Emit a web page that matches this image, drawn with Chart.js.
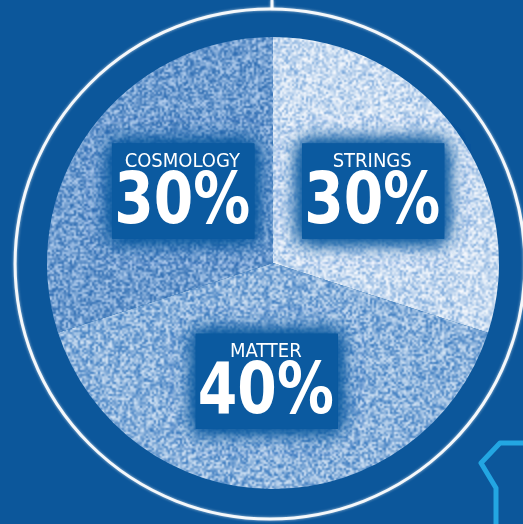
<!DOCTYPE html>
<html>
<head>
<meta charset="utf-8">
<script src="https://cdn.jsdelivr.net/npm/chart.js@4/dist/chart.umd.min.js"></script>
<style>
  html, body { margin: 0; padding: 0; background: #0c579b; }
  #wrap { width: 523px; height: 524px; position: relative; }
</style>
</head>
<body>
<div id="wrap"><canvas id="pie"></canvas></div>
<script>
// data, clockwise from 12 o'clock
const categories = ['STRINGS', 'MATTER', 'COSMOLOGY'];
const shares = [30, 40, 30];
const shareLabels = ['30%', '40%', '30%'];

const BG = '#0c579b';

// chalky fill: blotchy mix of two colours (seeded so every run looks the same)
// tile is as big as the canvas so no seams show
function chalk(dark, light, skew, seed) {
  const n = 270;
  const small = document.createElement('canvas');
  small.width = n; small.height = n;
  const sg = small.getContext('2d');
  const img = sg.createImageData(n, n);
  let s = seed;
  const rnd = () => { s = (s * 1103515245 + 12345) % 2147483648; return s / 2147483648; };
  for (let i = 0; i < n * n; i++) {
    const t = Math.pow(rnd(), skew);
    img.data[i * 4] = dark[0] + (light[0] - dark[0]) * t;
    img.data[i * 4 + 1] = dark[1] + (light[1] - dark[1]) * t;
    img.data[i * 4 + 2] = dark[2] + (light[2] - dark[2]) * t;
    img.data[i * 4 + 3] = 255;
  }
  sg.putImageData(img, 0, 0);
  const c = document.createElement('canvas');
  c.width = n * 2; c.height = n * 2;
  const g = c.getContext('2d');
  g.imageSmoothingEnabled = true;
  g.drawImage(small, 0, 0, n * 2, n * 2);
  return g.createPattern(c, 'no-repeat');
}

const sliceFills = [
  chalk([110, 160, 215], [252, 253, 255], 0.6, 7),
  chalk([55, 120, 190], [215, 230, 246], 0.9, 11),
  chalk([45, 108, 178], [185, 210, 240], 1.1, 19)
];

const decorPlugin = {
  id: 'decor',
  beforeDraw(chart) {
    const ctx = chart.ctx;
    const arc = chart.getDatasetMeta(0).data[0];
    if (!arc) return;
    const cx = arc.x, cy = arc.y, r = arc.outerRadius;
    ctx.save();
    ctx.fillStyle = BG;
    ctx.fillRect(0, 0, chart.width, chart.height);
    // outer chalk ring
    ctx.strokeStyle = 'rgba(255,255,255,0.92)';
    ctx.lineWidth = 3;
    ctx.shadowColor = 'rgba(255,255,255,0.7)';
    ctx.shadowBlur = 3;
    ctx.beginPath();
    ctx.arc(cx - 3, cy + 1, r * 1.128, 0, Math.PI * 2);
    ctx.stroke();
    // stem at top
    ctx.beginPath();
    ctx.moveTo(cx - 1, 0);
    ctx.lineTo(cx - 1, cy + 1 - r * 1.128);
    ctx.stroke();
    ctx.shadowBlur = 0;
    // cyan outline at bottom right
    ctx.strokeStyle = '#23a6e2';
    ctx.lineWidth = 5;
    ctx.lineJoin = 'round';
    ctx.beginPath();
    ctx.moveTo(530, 443);
    ctx.lineTo(500, 443);
    ctx.lineTo(481, 463);
    ctx.lineTo(496, 488);
    ctx.lineTo(496, 530);
    ctx.stroke();
    ctx.restore();
  },
  afterDatasetsDraw(chart) {
    const ctx = chart.ctx;
    const meta = chart.getDatasetMeta(0);
    ctx.save();
    meta.data.forEach((arc, i) => {
      const mid = (arc.startAngle + arc.endAngle) / 2;
      const d = arc.outerRadius * 0.53;
      const x = arc.x + d * (0.98 * Math.cos(mid) - 0.06 * Math.sin(mid));
      const y = arc.y + Math.sin(mid) * d;
      // soft-edged box behind the text
      ctx.fillStyle = '#0b5aa0';
      ctx.shadowColor = '#0b5aa0';
      ctx.shadowBlur = 18;
      for (let k = 0; k < 3; k++) ctx.fillRect(x - 70, y - 49, 142, 95);
      ctx.shadowBlur = 0;
      ctx.fillStyle = '#ffffff';
      ctx.textAlign = 'center';
      ctx.textBaseline = 'middle';
      ctx.font = '20px "DejaVu Sans Condensed", "Liberation Sans Narrow", sans-serif';
      ctx.fillText(categories[i], x, y - 31);
      ctx.font = 'bold 72px "DejaVu Sans Condensed", "Liberation Sans Narrow", sans-serif';
      const w = ctx.measureText(shareLabels[i]).width;
      ctx.save();
      ctx.translate(x, y + 12);
      ctx.scale(136 / w, 1);
      ctx.fillText(shareLabels[i], 0, 0);
      ctx.restore();
    });
    ctx.restore();
  }
};

new Chart(document.getElementById('pie'), {
  type: 'pie',
  data: {
    labels: categories,
    datasets: [{
      data: shares,
      backgroundColor: sliceFills,
      borderWidth: 0,
      hoverOffset: 0
    }]
  },
  options: {
    responsive: true,
    maintainAspectRatio: false,
    animation: false,
    layout: { padding: { left: 47, right: 24, top: 37, bottom: 35 } },
    plugins: {
      legend: { display: false },
      tooltip: { enabled: false }
    }
  },
  plugins: [decorPlugin]
});
</script>
</body>
</html>
